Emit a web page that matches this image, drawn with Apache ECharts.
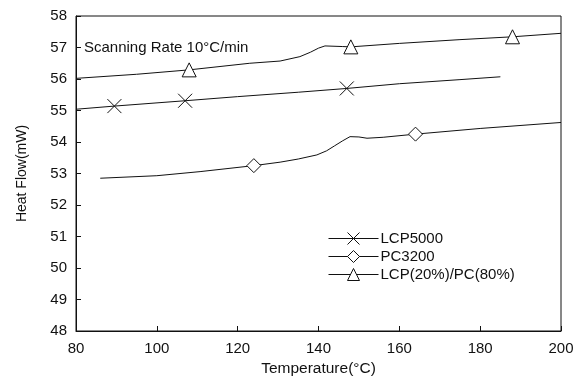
<!DOCTYPE html>
<html>
<head>
<meta charset="utf-8">
<script src="https://cdn.jsdelivr.net/npm/echarts@6/dist/echarts.min.js"></script>
<style>
  html, body { margin: 0; padding: 0; background: #fff; }
  #chart { width: 574px; height: 379px; }
</style>
</head>
<body>
<div id="chart"></div>
<script>
var lcp5000 = [[80, 55.04], [89.5, 55.14], [107, 55.31], [120, 55.44], [135, 55.58],
  [147, 55.70], [160, 55.85], [175, 55.98], [185, 56.07]];
var pc3200 = [[86, 52.85], [100, 52.93], [110.7, 53.06], [124, 53.25], [130.5, 53.36],
  [135, 53.46], [139.6, 53.59], [142, 53.72], [144, 53.88], [146, 54.04], [147.8, 54.17],
  [150, 54.16], [152, 54.12], [156, 54.15], [164, 54.25], [180, 54.43], [200, 54.62]];
var blend = [[80, 56.02], [95, 56.15], [108, 56.29], [123, 56.50], [130.5, 56.57],
  [135.4, 56.71], [138, 56.85], [140, 56.98], [141.6, 57.05], [146, 57.03], [148, 57.02],
  [160, 57.13], [175, 57.25], [188, 57.34], [200, 57.45]];

// temperatures where a marker is drawn on each curve
var lcp5000Marks = [89.5, 107, 147];
var pc3200Marks = [124, 164];
var blendMarks = [108, 148, 188];

var names = ["LCP5000", "PC3200", "LCP(20%)/PC(80%)"];
var xTicks = { min: 80, max: 200, step: 20 };
var yTicks = { min: 48, max: 58, step: 1 };

var font = "'Liberation Sans', Arial, sans-serif";

function withMarks(points, marks) {
  return points.map(function (p) {
    if (marks.indexOf(p[0]) >= 0) return { value: p };
    return { value: p, symbol: "none" };
  });
}

function makeSeries(name, points, marks, symbol, size) {
  return {
    name: name,
    type: "line",
    data: withMarks(points, marks),
    symbol: symbol,
    symbolSize: size,
    showAllSymbol: true,
    lineStyle: { color: "#111", width: 1 },
    itemStyle: { color: "#fff", borderColor: "#111", borderWidth: 1 },
    emphasis: { disabled: true },
    z: 3
  };
}

var myChart = echarts.init(document.getElementById("chart"));
myChart.setOption({
  animation: false,
  backgroundColor: "#fff",
  grid: {
    left: 76, right: 13, top: 16, bottom: 48,
    outerBoundsMode: "none",
    show: true, borderColor: "#111", borderWidth: 1
  },
  legend: {
    orient: "vertical",
    left: 323, top: 226,
    itemWidth: 50, itemHeight: 15, itemGap: 3,
    selectedMode: false,
    itemStyle: { color: "#fff", borderColor: "#111", borderWidth: 1 },
    lineStyle: { color: "#111", width: 1 },
    textStyle: { fontFamily: font, fontSize: 15, color: "#111", padding: [0, 0, 0, -3] },
    data: names
  },
  xAxis: {
    type: "value",
    min: xTicks.min, max: xTicks.max, interval: xTicks.step,
    name: "Temperature(°C)",
    nameLocation: "middle",
    nameGap: 26,
    nameTextStyle: { fontFamily: font, fontSize: 15.5, color: "#111" },
    axisLine: { lineStyle: { color: "#111", width: 1 } },
    axisTick: { inside: true, length: 5, lineStyle: { color: "#111" } },
    axisLabel: { fontFamily: font, fontSize: 15, color: "#111", margin: 10 },
    splitLine: { show: false }
  },
  yAxis: {
    type: "value",
    min: yTicks.min, max: yTicks.max, interval: yTicks.step,
    name: "Heat Flow(mW)",
    nameLocation: "middle",
    nameGap: 47,
    nameTextStyle: { fontFamily: font, fontSize: 14, color: "#111" },
    axisLine: { lineStyle: { color: "#111", width: 1 } },
    axisTick: { inside: true, length: 5, lineStyle: { color: "#111" } },
    axisLabel: { fontFamily: font, fontSize: 15, color: "#111", margin: 9 },
    splitLine: { show: false }
  },
  graphic: [{
    type: "text",
    left: 84, top: 40,
    style: { text: "Scanning Rate 10°C/min", fontFamily: font, fontSize: 15, fill: "#111" }
  }],
  series: [
    makeSeries(names[0], lcp5000, lcp5000Marks, "path://M0,0L10,10M10,0L0,10", 14),
    makeSeries(names[1], pc3200, pc3200Marks, "diamond", 14),
    makeSeries(names[2], blend, blendMarks, "triangle", 14)
  ]
});
</script>
</body>
</html>
